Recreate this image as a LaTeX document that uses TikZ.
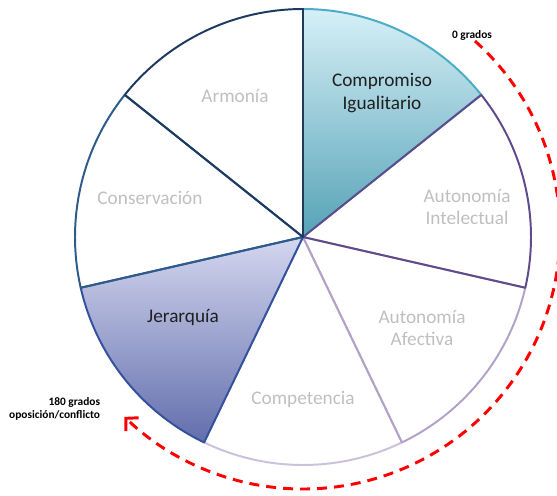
\documentclass[tikz,border=0pt]{standalone}
\usepackage{fontspec}
\setmainfont{Carlito}
\usetikzlibrary{arrows.meta}
\definecolor{lineaArmonia}{HTML}{1F3A5F}
\definecolor{lineaConserv}{HTML}{2E5C8A}
\definecolor{lineaJerarq}{HTML}{34519E}
\definecolor{lineaCompet}{HTML}{CCC1DA}
\definecolor{lineaAfect}{HTML}{B3A2C7}
\definecolor{lineaIntel}{HTML}{5F4B8B}
\definecolor{lineaComprom}{HTML}{4BACC6}
\definecolor{gris}{HTML}{BFBFBF}
\definecolor{rojo}{HTML}{FF0000}
\tikzset{
	sector/.style={line width=1.4pt, line join=round},
	rotulo/.style={font=\fontsize{13.7}{16.3}\selectfont, align=center, text=gris},
	grados/.style={font=\fontsize{8.1}{9.6}\selectfont\bfseries, text=black},
}
\begin{document}
\begin{tikzpicture}
	\useasboundingbox (-7.575,-6.45) rectangle (6.35,5.925);
	% 扇形 Compromiso
	\draw[sector, draw=lineaComprom, top color={rgb,255:red,214;green,240;blue,247}, middle color={rgb,255:red,146;green,214;blue,232}, bottom color={rgb,255:red,86;green,162;blue,182}] (0,0) -- (90:5.7) arc (90:38.57:5.7) -- cycle;
	% 扇形 Competencia, Afectiva, Intelectual
	\draw[sector, draw=lineaCompet] (0,0) -- (-64.29:5.7) arc (-64.29:-115.71:5.7) -- cycle;
	\draw[sector, draw=lineaAfect] (0,0) -- (-12.86:5.7) arc (-12.86:-64.29:5.7) -- cycle;
	\draw[sector, draw=lineaIntel] (0,0) -- (38.57:5.7) arc (38.57:-12.86:5.7) -- cycle;
	% 扇形 Jerarquía
	\draw[sector, draw=lineaJerarq, top color={rgb,255:red,212;green,215;blue,239}, middle color={rgb,255:red,143;green,153;blue,212}, bottom color={rgb,255:red,98;green,110;blue,172}] (0,0) -- (-115.71:5.7) arc (-115.71:-167.14:5.7) -- cycle;
	% 扇形 Conservación, Armonía
	\draw[sector, draw=lineaConserv] (0,0) -- (-167.14:5.7) arc (-167.14:-218.57:5.7) -- cycle;
	\draw[sector, draw=lineaArmonia] (0,0) -- (141.43:5.7) arc (141.43:90:5.7) -- cycle;
	% 标签
	\node[rotulo, text=black!88] (compromiso) at (1.975,3.59) {Compromiso\\Igualitario};
	\node[rotulo] (intelectual) at (4.1,0.75) {Autonomía\\Intelectual};
	\node[rotulo] (afectiva) at (2.975,-2.275) {Autonomía\\Afectiva};
	\node[rotulo] (competencia) at (0,-4.05) {Competencia};
	\node[rotulo, text=black!88] (jerarquia) at (-3.0,-2.0) {Jerarquía};
	\node[rotulo] (conservacion) at (-3.825,0.975) {Conservación};
	\node[rotulo] (armonia) at (-1.7,3.525) {Armonía};
	% 红色虚线箭头
	\draw[rojo, line width=2.1pt, dash pattern=on 0.25cm off 0.175cm, -{Straight Barb[length=2.2mm,width=4.6mm]}] (48:6.425) ++(0,0.125) arc (48:-134:6.425);
	\node[grados] (cero) at (4.225,5.05) {0 grados};
	\node[grados, align=right, anchor=east] (ciento) at (-4.95,-4.3) {180 grados\\oposición/conflicto};
\end{tikzpicture}
\end{document}
